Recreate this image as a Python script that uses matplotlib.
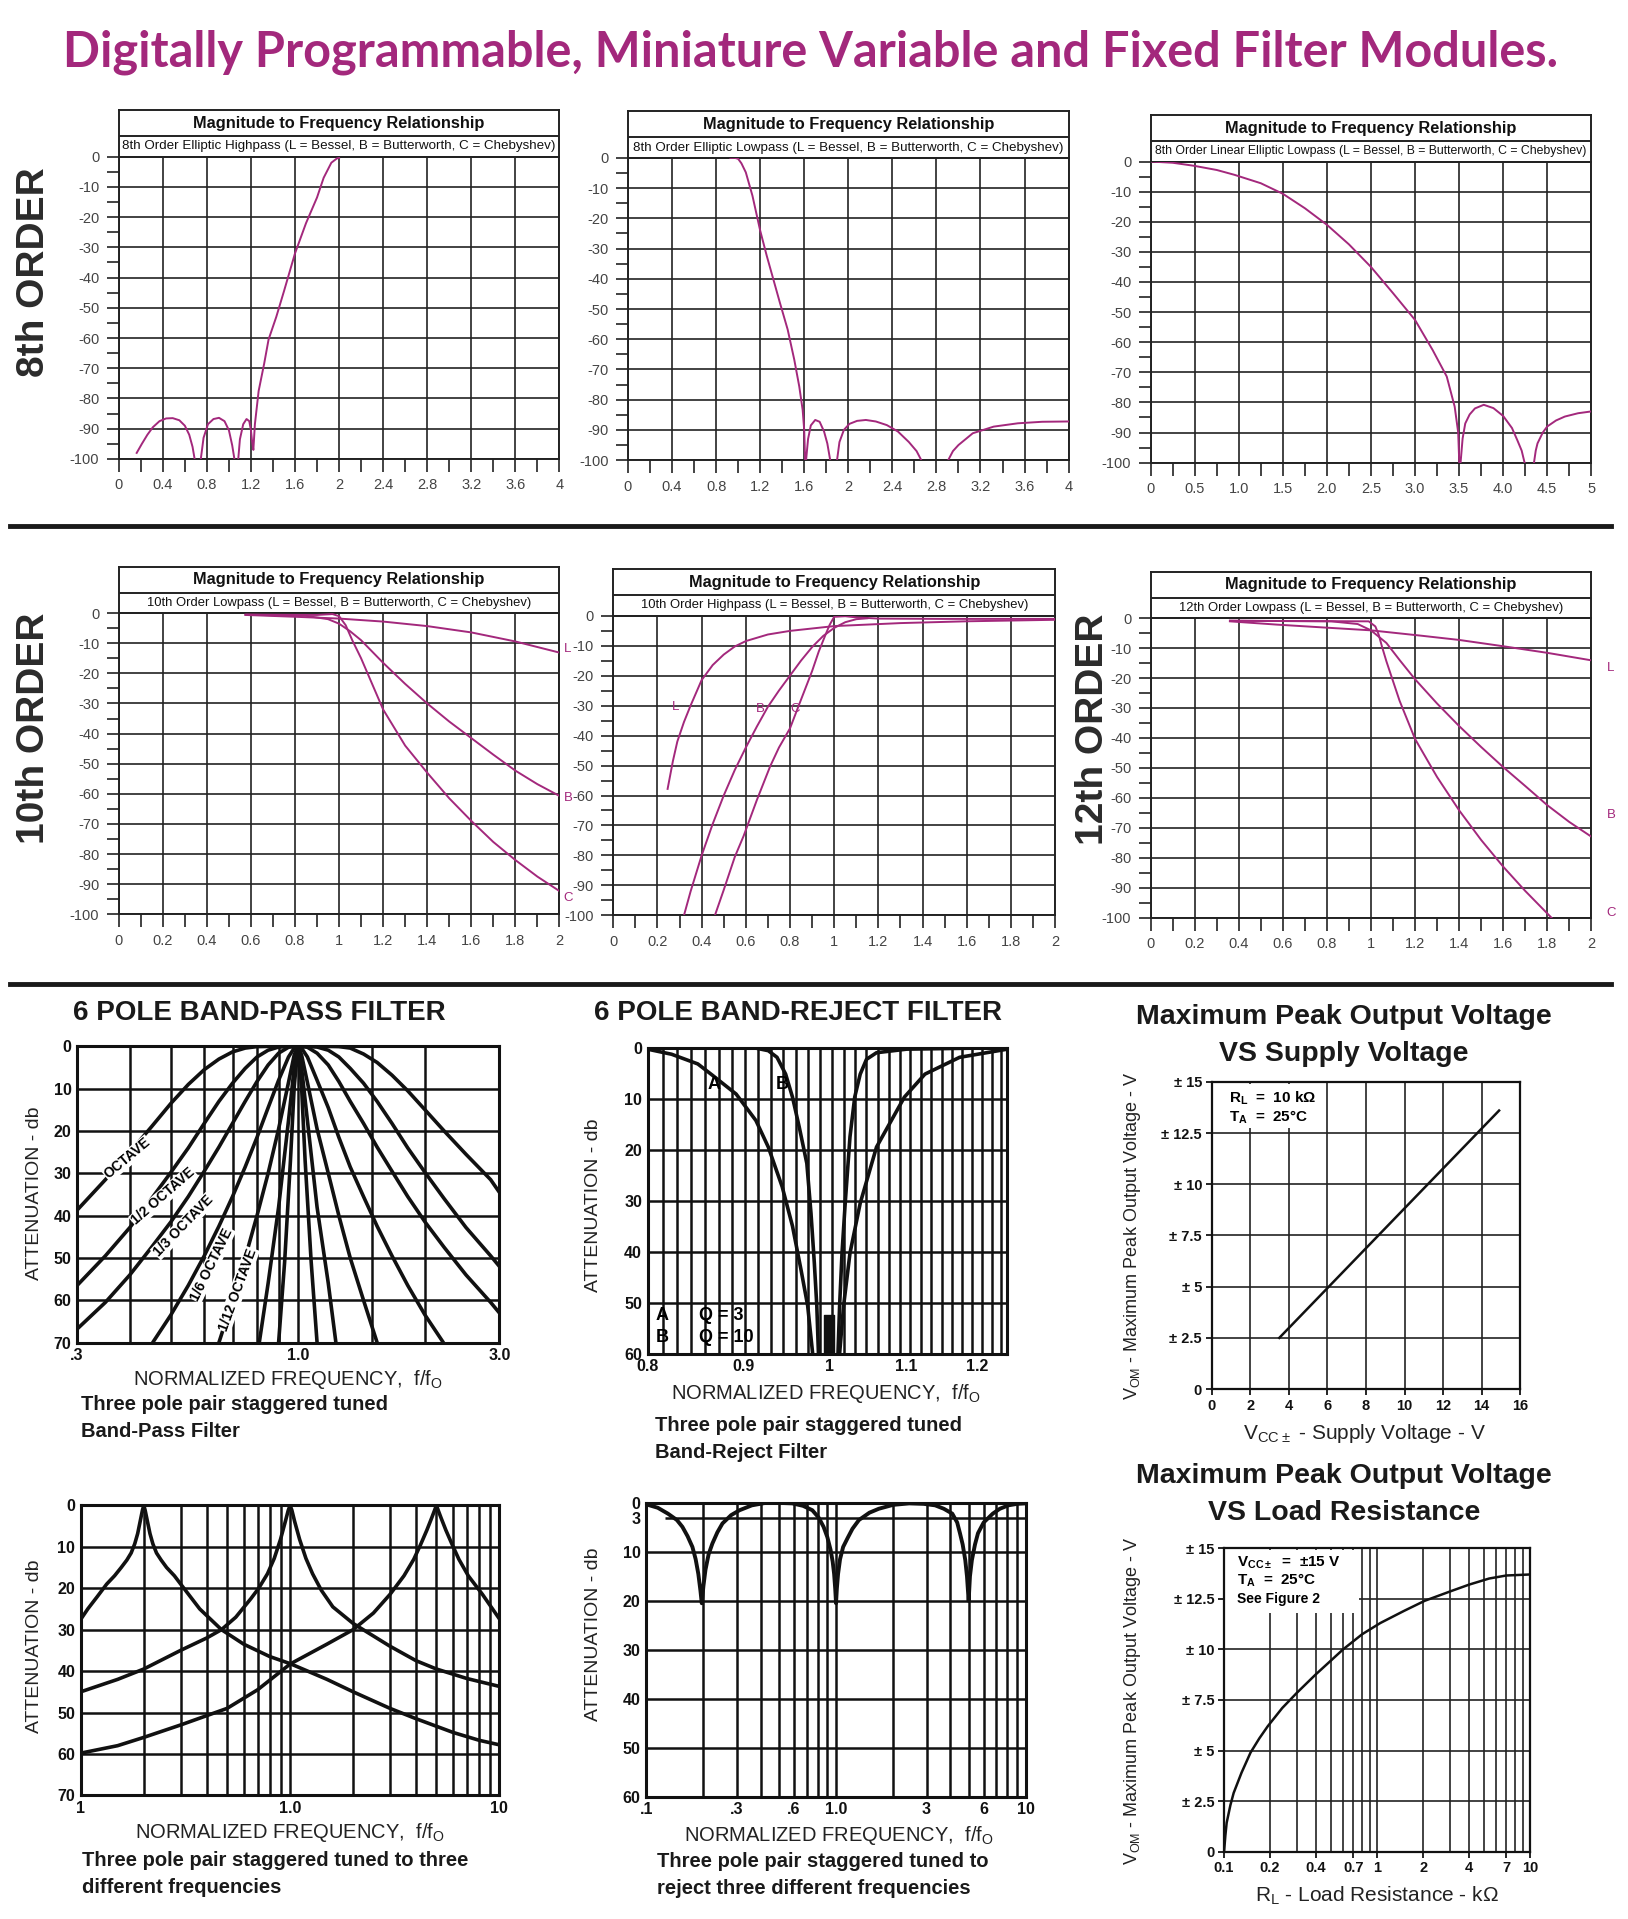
import numpy as np
import matplotlib
matplotlib.use("Agg")
import matplotlib.pyplot as plt
from matplotlib.lines import Line2D
from matplotlib.patches import Rectangle
from matplotlib.ticker import NullLocator, MultipleLocator

plt.rcParams['font.family'] = ['Liberation Sans', 'DejaVu Sans']
NARROW = ['Liberation Sans Narrow', 'Liberation Sans', 'DejaVu Sans']
MAG = '#a3287c'
GRID = '#222222'

# ---------------- data: 8th order ----------------
hp8_x = [0.163, 0.21, 0.26, 0.31, 0.37, 0.43, 0.49, 0.55, 0.6, 0.64, 0.67, 0.689, np.nan,
         0.745, 0.77, 0.81, 0.86, 0.91, 0.96, 1.0, 1.03, 1.05, np.nan,
         1.085, 1.1, 1.13, 1.16, 1.185, 1.2, 1.21, 1.222, 1.236, 1.27, 1.32, 1.36, 1.43,
         1.5, 1.6, 1.7, 1.8, 1.86, 1.93, 1.98, 2.0]
hp8_y = [-98, -95, -92, -89.5, -87.5, -86.6, -86.5, -87.2, -89, -92, -96, -100, np.nan,
         -100, -93, -88.5, -86.8, -86.4, -87.5, -90.5, -95.5, -100, np.nan,
         -100, -93.5, -88.5, -86.8, -87.5, -90.5, -94, -97, -88.5, -77.5, -68.5, -60.5, -53,
         -44.5, -32, -22, -13.5, -7, -2, -0.6, -0.4]

lp8_x = [0.93, 0.97, 1.0, 1.03, 1.07, 1.13, 1.2, 1.26, 1.32, 1.38, 1.45, 1.51, 1.555, 1.586, 1.6, 1.608, np.nan,
         1.617, 1.635, 1.66, 1.70, 1.74, 1.78, 1.81, 1.836, np.nan,
         1.898, 1.92, 1.96, 2.01, 2.08, 2.16, 2.25, 2.35, 2.45, 2.55, 2.62, 2.663, np.nan,
         2.907, 2.95, 3.0, 3.13, 3.32, 3.54, 3.76, 4.0]
lp8_y = [0, 0, -0.3, -1.8, -4.8, -12.5, -24, -32.4, -40.2, -48, -56.8, -66.8, -75.6, -83.4, -90, -100, np.nan,
         -100, -93, -88.5, -86.7, -87.3, -90.5, -94.5, -100, np.nan,
         -100, -94, -90, -88, -87, -86.7, -87.2, -88.4, -90.5, -94, -97, -100, np.nan,
         -100, -97, -95, -91.1, -88.9, -87.8, -87.3, -87.2]

lin8_x = [0, 0.25, 0.49, 0.75, 0.95, 1.25, 1.5, 1.75, 2.0, 2.25, 2.5, 2.75, 3.0, 3.2, 3.36, 3.45, 3.49, 3.502, np.nan,
          3.517, 3.54, 3.57, 3.62, 3.68, 3.78, 3.89, 4.0, 4.1, 4.16, 4.21, 4.243, np.nan,
          4.35, 4.37, 4.39, 4.45, 4.5, 4.6, 4.7, 4.85, 5.0]
lin8_y = [0, -0.4, -1.4, -2.8, -4.4, -7.2, -10.7, -15.5, -21, -27.5, -35, -43.7, -52.6, -62.6, -71.4, -81.4, -90, -100, np.nan,
          -100, -92, -87, -84, -82, -80.8, -81.9, -84.5, -88.5, -92.5, -96, -100, np.nan,
          -100, -96, -93.6, -90, -88, -86, -84.7, -83.6, -83]

# ---------------- data: 10th / 12th order ----------------
lp10_L_x = [0.575, 0.8, 1.0, 1.2, 1.4, 1.6, 1.8, 2.0]
lp10_L_y = [-0.6, -1.2, -1.8, -2.8, -4.3, -6.4, -9.4, -13.1]
lp10_B_x = [0.575, 0.85, 0.95, 1.0, 1.05, 1.1, 1.2, 1.3, 1.4, 1.5, 1.6, 1.7, 1.8, 1.9, 2.0]
lp10_B_y = [-0.5, -0.9, -2, -3.5, -6, -9, -16.5, -23.5, -30, -36, -41.5, -47, -52.3, -56.8, -60.7]
lp10_C_x = [0.58, 0.9, 0.97, 1.0, 1.03, 1.06, 1.1, 1.15, 1.2, 1.3, 1.4, 1.5, 1.6, 1.7, 1.8, 1.9, 2.0]
lp10_C_y = [-0.5, -0.6, -0.3, -1.0, -4, -9, -15, -23.5, -32, -44, -53, -61.5, -69, -76, -82, -87.5, -92.3]

hp10_L_x = [0.246, 0.27, 0.29, 0.32, 0.35, 0.4, 0.45, 0.5, 0.55, 0.6, 0.7, 0.8, 1.0, 1.3, 1.6, 2.0]
hp10_L_y = [-57.8, -48.5, -42, -35.5, -30, -21.5, -16.5, -13, -10.3, -8.5, -6.3, -5.1, -3.5, -2.5, -1.9, -1.4]
hp10_B_x = [0.32, 0.35, 0.4, 0.45, 0.5, 0.55, 0.6, 0.65, 0.7, 0.75, 0.8, 0.85, 0.9, 0.95, 1.0, 1.05, 1.1, 1.15]
hp10_B_y = [-100, -92, -80, -69.5, -60, -51.5, -44, -37, -30.4, -25, -20, -15, -10.5, -6.8, -4.1, -2.2, -1.2, -0.9]
hp10_C_x = [0.46, 0.5, 0.55, 0.59, 0.65, 0.71, 0.75, 0.8, 0.85, 0.9, 0.93, 0.96, 0.98, 1.0, 1.05, 1.1, 1.2, 1.5, 2.0]
hp10_C_y = [-100, -91.5, -80.5, -73.5, -61.5, -50.3, -44, -37.6, -28, -18.5, -12, -6.5, -3, -0.4, -0.2, -0.6, -1.0, -1.1, -1.1]

lp12_L_x = [0.36, 0.575, 0.82, 1.0, 1.23, 1.4, 1.6, 1.8, 2.0]
lp12_L_y = [-1.1, -2.2, -3.3, -4.1, -5.9, -7.3, -9.4, -11.6, -14.1]
lp12_B_x = [0.36, 0.82, 0.94, 1.0, 1.07, 1.13, 1.2, 1.3, 1.4, 1.5, 1.6, 1.7, 1.8, 1.9, 2.0]
lp12_B_y = [-0.9, -1.1, -2, -4.1, -8.3, -14, -20.4, -28.5, -36, -43, -49.7, -56, -62.4, -68, -72.9]
lp12_C_x = [0.36, 0.99, 1.02, 1.035, 1.05, 1.07, 1.1, 1.13, 1.2, 1.3, 1.4, 1.5, 1.6, 1.7, 1.82]
lp12_C_y = [-0.9, -1.1, -2.8, -5.5, -9.5, -14.4, -21, -27.6, -40.3, -53, -64.1, -74, -82.9, -91, -100]

# ---------------- data: 6 pole band-pass ----------------
bp_oct_f = [0.3, 0.35, 0.4, 0.45, 0.5, 0.55, 0.6, 0.65, 0.7, 0.75, 0.8, 0.85, 1.18, 1.25, 1.33, 1.43,
            1.54, 1.67, 1.82, 2.0, 2.22, 2.5, 2.86, 3.0]
bp_oct_db = [38.7, 31.5, 25, 19, 13.5, 9, 5.5, 3, 1.3, 0.4, 0.05, 0, 0, 0.05, 0.4, 1.8,
             3.8, 6.8, 10.5, 15, 20, 25.5, 31.5, 34.5]
bp_half_f = [0.3, 0.35, 0.4, 0.45, 0.5, 0.55, 0.6, 0.65, 0.7, 0.75, 0.8, 0.85, 0.9, 0.95,
             1.053, 1.11, 1.18, 1.25, 1.33, 1.43, 1.54, 1.67, 1.82, 2.0, 2.22, 2.5, 2.86, 3.0]
bp_half_db = [56.5, 49.5, 42.8, 36, 29.8, 24, 18.2, 13, 8.7, 5.2, 2.5, 0.9, 0.15, 0,
              0, 0.15, 0.9, 2.5, 5.2, 8.7, 13, 18.2, 24, 29.8, 36, 42.8, 49.5, 52]
bp_third_f = [0.3, 0.35, 0.4, 0.45, 0.5, 0.55, 0.6, 0.65, 0.7, 0.75, 0.8, 0.85, 0.9, 0.95, 0.98,
              1.02, 1.053, 1.11, 1.18, 1.25, 1.33, 1.43, 1.54, 1.67, 1.82, 2.0, 2.22, 2.5, 2.86, 3.0]
bp_third_db = [66.8, 60.5, 54, 47.5, 41.5, 35.5, 29.5, 23.8, 18.2, 13, 8.3, 4.4, 1.6, 0.2, 0,
               0, 0.2, 1.6, 4.4, 8.3, 13, 18.2, 23.8, 29.5, 35.5, 41.5, 47.5, 54, 60.5, 63]
bp_sixth_f = [0.453, 0.5, 0.55, 0.6, 0.65, 0.7, 0.75, 0.8, 0.85, 0.9, 0.95, 0.98, 1.0,
              1.02, 1.053, 1.11, 1.18, 1.25, 1.33, 1.43, 1.54, 1.67, 1.82, 2.0, 2.21]
bp_sixth_db = [70, 63.5, 56.5, 49.5, 42.5, 35.5, 28.5, 21.5, 14.5, 8, 2.5, 0.4, 0,
               0.4, 2.5, 8, 14.5, 21.5, 28.5, 35.5, 42.5, 49.5, 56.5, 63.5, 70]
bp_twelfth_f = [0.65, 0.7, 0.75, 0.8, 0.85, 0.9, 0.95, 0.98, 1.0, 1.02, 1.053, 1.11, 1.18, 1.25, 1.33, 1.43, 1.54]
bp_twelfth_db = [70, 60, 50, 40, 30, 19.5, 8.5, 2, 0, 2, 8.5, 19.5, 30, 40, 50, 60, 70]
bp_24_f = [0.81, 0.85, 0.9, 0.95, 0.98, 1.0, 1.02, 1.053, 1.11, 1.18, 1.23]
bp_24_db = [70, 56, 38, 17.5, 5, 0, 5, 17.5, 38, 56, 70]
bp_48_f = [0.9, 0.93, 0.96, 0.98, 1.0, 1.02, 1.04, 1.075, 1.11]
bp_48_db = [70, 51, 27, 9.5, 0, 9.5, 27, 51, 70]
bp_labels = ['OCTAVE', '1/2 OCTAVE', '1/3 OCTAVE', '1/6 OCTAVE', '1/12 OCTAVE']
bp_label_f = [0.395, 0.48, 0.535, 0.625, 0.72]
bp_label_db = [26.5, 35.5, 42.5, 51.5, 57.5]
bp_label_rot = [40, 41, 46, 64, 70]

# ---------------- data: 6 pole band-reject ----------------
br_a_f = [0.8, 0.824, 0.851, 0.867, 0.892, 0.914, 0.928, 0.944, 0.956, 0.966, 0.974, 0.98, np.nan,
          1.013, 1.018, 1.026, 1.039, 1.06, 1.097, 1.125, 1.174, 1.245]
br_a_db = [0.3, 1.3, 3.2, 5.5, 9.1, 14.3, 19.5, 27.3, 35, 43.5, 50.6, 60, np.nan,
           60, 50.6, 40.3, 30.5, 19.5, 9.7, 5.2, 1.9, 0.3]
br_b_f = [0.8, 0.914, 0.928, 0.938, 0.948, 0.956, 0.964, 0.973, 0.978, 0.982, 0.985, 0.987, np.nan,
          1.011, 1.013, 1.016, 1.02, 1.026, 1.032, 1.039, 1.047, 1.06, 1.1, 1.245]
br_b_db = [0, 0.1, 0.6, 1.9, 5.2, 9.7, 15.6, 22.7, 32.5, 42.2, 50.6, 60, np.nan,
           60, 50.6, 40.3, 30.5, 17.5, 9.7, 5.2, 2.3, 1, 0.3, 0]
br_notch = [0.994, 1.006, 52.5, 60]

# ---------------- data: output voltage ----------------
supply_v = [3.5, 14.9]
peak_v_supply = [2.5, 13.6]
load_r = [0.1, 0.102, 0.104, 0.11, 0.1155, 0.13, 0.149, 0.17, 0.193, 0.24, 0.299, 0.396, 0.5, 0.6,
          0.8, 1.05, 1.5, 2.05, 3.1, 4.0, 5.4, 7.0, 10]
peak_v_load = [0, 0.8, 1.43, 2.3, 2.9, 3.9, 4.9, 5.6, 6.2, 7.1, 7.85, 8.75, 9.45, 10.0,
               10.75, 11.3, 11.9, 12.4, 12.9, 13.2, 13.5, 13.65, 13.7]

# ---------------- data: three frequencies ----------------
tp1_f = [0.1, 0.108, 0.12, 0.133, 0.145, 0.156, 0.166, 0.174, 0.181, 0.187, 0.1923, 0.197, 0.2,
         0.203, 0.208, 0.214, 0.221, 0.23, 0.242, 0.257, 0.28, 0.3, 0.37, 0.47, 0.6, 0.8, 1.0,
         1.5, 2.0, 3.0, 4.0, 6.0, 8.0, 10]
tp1_db = [27.5, 25, 22, 19, 17, 15, 13.2, 11.5, 9.3, 6.8, 3.8, 1.2, 0,
          1.2, 3.8, 6.8, 9.3, 11.5, 13.2, 15, 17, 19, 25, 30, 33.5, 36.5, 38.2,
          42, 45, 49, 51.5, 54.8, 56.7, 57.8]
tp2_f = [0.1, 0.15, 0.2, 0.3, 0.4, 0.47, 0.55, 0.65, 0.708, 0.78, 0.84, 0.9, 0.95, 0.98, 1.0,
         1.02, 1.05, 1.11, 1.19, 1.28, 1.41, 1.6, 2.0, 2.2, 3.0, 4.0, 5.0, 7.0, 10]
tp2_db = [45, 42, 39.5, 35, 32, 30, 27, 22.5, 20, 16.5, 12.8, 8.2, 3.8, 1.2, 0,
          1.2, 3.8, 8.2, 12.8, 16.5, 20.5, 24.5, 28.5, 29.8, 34, 37.5, 39.5, 41.8, 43.7]
tp3_f = [0.1, 0.15, 0.2, 0.3, 0.5, 0.7, 1.0, 1.5, 2.0, 2.5, 3.0, 3.5, 3.9, 4.2, 4.5, 4.75, 4.9, 5.0,
         5.1, 5.26, 5.55, 5.95, 6.4, 7.1, 8.3, 10]
tp3_db = [59.8, 58, 56, 53, 49, 44.5, 38.3, 33.5, 30, 26, 21.5, 17, 13, 9.5, 6, 3, 1.2, 0,
          1.2, 3, 6, 9.5, 13, 17, 21.5, 27.4]

tr_f = [0.1, 0.115, 0.13, 0.145, 0.155, 0.165, 0.175, 0.182, 0.188, 0.193, 0.196, 0.2, 0.205, 0.213,
        0.223, 0.237, 0.252, 0.28, 0.31, 0.36, 0.425, 0.5, 0.588, 0.67, 0.75, 0.81, 0.86, 0.9,
        0.936, 0.96, 0.977, 0.99, 1.0, 1.01, 1.025, 1.05, 1.09, 1.15, 1.22, 1.32, 1.5, 1.68,
        2.0, 2.43, 2.9, 3.33, 3.7, 4.1, 4.35, 4.5, 4.65, 4.8, 4.9, 5.0, 5.08, 5.2, 5.4, 5.6,
        6.0, 6.7, 7.3, 8.1, 9.0, 10]
tr_db = [0.3, 1.0, 2.2, 3.5, 4.9, 6.8, 9, 11.5, 14.5, 18, 20.5, 17, 13.7, 10.5,
         8.3, 6, 4.2, 2.5, 1.5, 0.5, 0.0, 0, 0.1, 0.6, 1.5, 3, 4.9, 7,
         9.6, 12, 14.5, 17.5, 20.5, 17.5, 14.5, 11.5, 9, 7.2, 5.3, 3.5, 2.0, 1.2,
         0.4, 0.1, 0.2, 0.5, 1.2, 2.2, 4, 6.2, 8.5, 11.7, 15, 20, 15, 11.7, 8.5, 6.2,
         4, 2.2, 1.2, 0.5, 0.2, 0.1]

# ---------------- tick labels ----------------
x4_vals = [0, 0.4, 0.8, 1.2, 1.6, 2.0, 2.4, 2.8, 3.2, 3.6, 4.0]
x4_labels = ['0', '0.4', '0.8', '1.2', '1.6', '2', '2.4', '2.8', '3.2', '3.6', '4']
x5_vals = [0, 0.5, 1.0, 1.5, 2.0, 2.5, 3.0, 3.5, 4.0, 4.5, 5.0]
x5_labels = ['0', '0.5', '1.0', '1.5', '2.0', '2.5', '3.0', '3.5', '4.0', '4.5', '5']
x2_vals = [0, 0.2, 0.4, 0.6, 0.8, 1.0, 1.2, 1.4, 1.6, 1.8, 2.0]
x2_labels = ['0', '0.2', '0.4', '0.6', '0.8', '1', '1.2', '1.4', '1.6', '1.8', '2']
db_vals = list(range(-100, 1, 10))
db_labels = [str(v) for v in db_vals]
volt_vals = [0, 2.5, 5, 7.5, 10, 12.5, 15]
volt_labels = ['0', '± 2.5', '± 5', '± 7.5', '± 10', '± 12.5', '± 15']

# ---------------- figure ----------------
DW, DH = 1330.0, 1568.0
fig = plt.figure(figsize=(16.28, 19.19), dpi=100)
fig.patch.set_facecolor('white')


def frect(x0, x1, yt, yb):
    return [x0 / DW, 1 - yb / DH, (x1 - x0) / DW, (yb - yt) / DH]


def ftext(x, y, s, **kw):
    fig.text(x / DW, 1 - y / DH, s, **kw)


def header(x0, x1, ytop, ybot, title, sub, subsize):
    hx = fig.add_axes(frect(x0, x1, ytop, ybot))
    hx.set_xlim(0, 1)
    hx.set_ylim(0, 1)
    hx.set_xticks([])
    hx.set_yticks([])
    for s in hx.spines.values():
        s.set_linewidth(1.4)
        s.set_color(GRID)
    hx.axhline(0.44, color=GRID, lw=1.4)
    hx.text(0.5, 0.72, title, ha='center', va='center', fontsize=11.8, fontweight='bold', color='#111')
    hx.text(0.5, 0.22, sub, ha='center', va='center', fontsize=subsize, family=NARROW, color='#111')


def mag_plot(x0, x1, yt, yb, xmax, xv, xl, minor, curves, title, sub, labels=(), subsize=9.6):
    header(x0, x1, yt - 38, yt, title, sub, subsize)
    ax = fig.add_axes(frect(x0, x1, yt, yb))
    ax.set_xlim(0, xmax)
    ax.set_ylim(-100, 0)
    ax.set_xticks(xv, xl)
    ax.set_yticks(db_vals, db_labels)
    ax.xaxis.set_minor_locator(MultipleLocator(minor))
    ax.yaxis.set_minor_locator(MultipleLocator(5))
    ax.grid(True, which='major', color=GRID, lw=1.2)
    ax.tick_params(which='both', direction='out', length=9, width=1.2, color=GRID,
                   labelsize=10.5, labelcolor='#444', pad=5)
    for lbl in ax.get_xticklabels() + ax.get_yticklabels():
        lbl.set_family(NARROW)
    for s in ax.spines.values():
        s.set_linewidth(1.4)
        s.set_color(GRID)
    for cx, cy in curves:
        ax.plot(cx, cy, color=MAG, lw=1.4, zorder=3)
    for tx, ty, t in labels:
        ax.text(tx, ty, t, color=MAG, fontsize=9.5, ha='left', va='center', clip_on=False)
    return ax


fill_title = 'Digitally Programmable, Miniature Variable and Fixed Filter Modules.'
ftext(662, 43, fill_title, ha='center', va='center', fontsize=35, color=MAG,
      family=['Lato', 'DejaVu Sans'], fontweight='bold')

# section labels
for sx, sy, s in [(28, 222, '8th ORDER'), (28, 595, '10th ORDER'), (893, 596, '12th ORDER')]:
    ftext(sx, sy, s, rotation=90, ha='center', va='center', fontsize=28, fontweight='bold', color='#2b2b2b')

# separators
for yy in [430, 804]:
    fig.add_artist(Line2D([8 / DW, 1316 / DW], [1 - yy / DH] * 2, lw=3.5, color='#1a1a1a'))

MT = 'Magnitude to Frequency Relationship'
mag_plot(97, 457, 128, 375, 4, x4_vals, x4_labels, 0.2, [(hp8_x, hp8_y)], MT,
         '8th Order Elliptic Highpass (L = Bessel, B = Butterworth, C = Chebyshev)')
mag_plot(513, 873, 129, 376, 4, x4_vals, x4_labels, 0.2, [(lp8_x, lp8_y)], MT,
         '8th Order Elliptic Lowpass (L = Bessel, B = Butterworth, C = Chebyshev)')
mag_plot(940, 1300, 132, 378, 5, x5_vals, x5_labels, 0.25, [(lin8_x, lin8_y)], MT,
         '8th Order Linear Elliptic Lowpass (L = Bessel, B = Butterworth, C = Chebyshev)', subsize=8.8)

mag_plot(97, 457, 501, 747, 2, x2_vals, x2_labels, 0.1,
         [(lp10_L_x, lp10_L_y), (lp10_B_x, lp10_B_y), (lp10_C_x, lp10_C_y)], MT,
         '10th Order Lowpass (L = Bessel, B = Butterworth, C = Chebyshev)',
         labels=[(2.02, -12, 'L'), (2.02, -61.5, 'B'), (2.02, -94.5, 'C')], subsize=9.4)
mag_plot(501, 862, 503, 748, 2, x2_vals, x2_labels, 0.1,
         [(hp10_L_x, hp10_L_y), (hp10_B_x, hp10_B_y), (hp10_C_x, hp10_C_y)], MT,
         '10th Order Highpass (L = Bessel, B = Butterworth, C = Chebyshev)',
         labels=[(0.265, -30.5, 'L'), (0.645, -31, 'B'), (0.8, -31, 'C')], subsize=9.4)
mag_plot(940, 1300, 505, 750, 2, x2_vals, x2_labels, 0.1,
         [(lp12_L_x, lp12_L_y), (lp12_B_x, lp12_B_y), (lp12_C_x, lp12_C_y)], MT,
         '12th Order Lowpass (L = Bessel, B = Butterworth, C = Chebyshev)',
         labels=[(2.07, -16.6, 'L'), (2.07, -65.7, 'B'), (2.07, -98.3, 'C')], subsize=9.4)


def att_plot(x0, x1, yt, yb, xlim, ylim, xv, xl, yv, yl, vgrid, hgrid, log=True):
    ax = fig.add_axes(frect(x0, x1, yt, yb))
    if log:
        ax.set_xscale('log')
    ax.set_xlim(*xlim)
    ax.set_ylim(*ylim)
    ax.set_xticks(xv, xl, fontweight='bold')
    ax.set_yticks(yv, yl, fontweight='bold')
    ax.xaxis.set_minor_locator(NullLocator())
    ax.yaxis.set_minor_locator(NullLocator())
    ax.tick_params(length=0, labelsize=11.5, pad=4, labelcolor='#111')
    for v in vgrid:
        ax.axvline(v, color='#111', lw=1.8, zorder=1)
    for h in hgrid:
        ax.axhline(h, color='#111', lw=1.8, zorder=1)
    for s in ax.spines.values():
        s.set_linewidth(2.2)
        s.set_color('#111')
    return ax


logmin = [0.2, 0.3, 0.4, 0.5, 0.6, 0.7, 0.8, 0.9, 1, 2, 3, 4, 5, 6, 7, 8, 9]

# band-pass
ftext(60, 828, '6 POLE BAND-PASS FILTER', ha='left', va='center', fontsize=20, fontweight='bold', color='#1a1a1a')
ax = att_plot(63, 408, 855, 1097, (0.3, 3.0), (70, 0), [0.3, 1.0, 3.0], ['.3', '1.0', '3.0'],
              list(range(0, 71, 10)), [str(v) for v in range(0, 71, 10)],
              [0.4, 0.5, 0.6, 0.7, 0.8, 0.9, 1.0, 1.5, 2.0], list(range(10, 70, 10)))
for cf, cd in [(bp_oct_f, bp_oct_db), (bp_half_f, bp_half_db), (bp_third_f, bp_third_db),
               (bp_sixth_f, bp_sixth_db), (bp_twelfth_f, bp_twelfth_db), (bp_24_f, bp_24_db),
               (bp_48_f, bp_48_db)]:
    ax.plot(cf, cd, color='#111', lw=2.6, zorder=3, solid_capstyle='round')
for t, lf, ld, r in zip(bp_labels, bp_label_f, bp_label_db, bp_label_rot):
    ax.text(lf, ld, t, rotation=r, ha='center', va='center', fontsize=10, fontweight='bold', zorder=4,
            bbox=dict(boxstyle='square,pad=0.05', fc='white', ec='none'))
ftext(28, 975, 'ATTENUATION - db', rotation=90, ha='center', va='center', fontsize=14, color='#222')
ftext(235, 1127, r'NORMALIZED FREQUENCY,  f/f$_{\mathregular{O}}$', ha='center', va='center', fontsize=14.5, color='#222')
ftext(66, 1148, 'Three pole pair staggered tuned', ha='left', va='center', fontsize=14.5, fontweight='bold', color='#1a1a1a')
ftext(66, 1170, 'Band-Pass Filter', ha='left', va='center', fontsize=14.5, fontweight='bold', color='#1a1a1a')

# band-reject
ftext(485, 828, '6 POLE BAND-REJECT FILTER', ha='left', va='center', fontsize=20, fontweight='bold', color='#1a1a1a')
ax = att_plot(529, 823, 856, 1106, (0.8, 1.245), (60, 0), [0.8, 0.9, 1.0, 1.1, 1.2],
              ['0.8', '0.9', '1', '1.1', '1.2'], list(range(0, 61, 10)), [str(v) for v in range(0, 61, 10)],
              list(np.arange(0.815, 1.245, 0.0145)), list(range(10, 60, 10)))
ax.plot(br_a_f, br_a_db, color='#111', lw=2.6, zorder=3)
ax.plot(br_b_f, br_b_db, color='#111', lw=2.6, zorder=3)
ax.fill_between([br_notch[0], br_notch[1]], br_notch[2], br_notch[3], color='#111', zorder=3)
ax.text(0.868, 7.2, 'A', fontsize=13, fontweight='bold', ha='center', va='center', zorder=4)
ax.text(0.944, 7.2, 'B', fontsize=13, fontweight='bold', ha='center', va='center', zorder=4)
ax.text(0.808, 52.5, 'A', fontsize=13, fontweight='bold', ha='left', va='center', zorder=4)
ax.text(0.808, 56.8, 'B', fontsize=13, fontweight='bold', ha='left', va='center', zorder=4)
ax.text(0.852, 52.5, 'Q = 3', fontsize=13, fontweight='bold', ha='left', va='center', zorder=4)
ax.text(0.852, 56.8, 'Q = 10', fontsize=13, fontweight='bold', ha='left', va='center', zorder=4)
ftext(485, 985, 'ATTENUATION - db', rotation=90, ha='center', va='center', fontsize=14, color='#222')
ftext(675, 1139, r'NORMALIZED FREQUENCY,  f/f$_{\mathregular{O}}$', ha='center', va='center', fontsize=14.5, color='#222')
ftext(535, 1165, 'Three pole pair staggered tuned', ha='left', va='center', fontsize=14.5, fontweight='bold', color='#1a1a1a')
ftext(535, 1187, 'Band-Reject Filter', ha='left', va='center', fontsize=14.5, fontweight='bold', color='#1a1a1a')


def volt_plot(x0, x1, yt, yb):
    ax = fig.add_axes(frect(x0, x1, yt, yb))
    ax.set_ylim(0, 15)
    ax.set_yticks(volt_vals, volt_labels, fontweight='bold')
    ax.tick_params(length=4, width=1.2, labelsize=10.5, pad=3, labelcolor='#111')
    for s in ax.spines.values():
        s.set_linewidth(1.6)
        s.set_color('#111')
    return ax


# output vs supply
ftext(1098, 831, 'Maximum Peak Output Voltage', ha='center', va='center', fontsize=20.5, fontweight='bold', color='#1a1a1a')
ftext(1098, 861, 'VS Supply Voltage', ha='center', va='center', fontsize=20.5, fontweight='bold', color='#1a1a1a')
ax = volt_plot(990, 1242, 884, 1135)
ax.set_xlim(0, 16)
ax.set_xticks(list(range(0, 17, 2)), [str(v) for v in range(0, 17, 2)], fontweight='bold')
for v in range(2, 16, 2):
    ax.axvline(v, color='#222', lw=1.2, zorder=1)
for h in [2.5, 5, 7.5, 10, 12.5]:
    ax.axhline(h, color='#222', lw=1.2, zorder=1)
ax.add_patch(Rectangle((0.1, 12.75), 5.0, 2.15, fc='white', ec='none', zorder=2))
ax.plot(supply_v, peak_v_supply, color='#111', lw=1.8, zorder=3)
ax.text(0.9, 14.2, r'R$_{\mathregular{L}}$  =  10 kΩ', fontsize=11, fontweight='bold', va='center', zorder=4)
ax.text(0.9, 13.3, r'T$_{\mathregular{A}}$  =  25°C', fontsize=11, fontweight='bold', va='center', zorder=4)
ftext(925, 1010, r'V$_{\mathregular{OM}}$ - Maximum Peak Output Voltage - V', rotation=90, ha='center', va='center',
      fontsize=13, color='#222')
ftext(1115, 1171, r'V$_{\mathregular{CC\pm}}$ - Supply Voltage - V', ha='center', va='center', fontsize=15, color='#222')

# output vs load
ftext(1098, 1206, 'Maximum Peak Output Voltage', ha='center', va='center', fontsize=20.5, fontweight='bold', color='#1a1a1a')
ftext(1098, 1236, 'VS Load Resistance', ha='center', va='center', fontsize=20.5, fontweight='bold', color='#1a1a1a')
ax = volt_plot(1000, 1250, 1265, 1513)
ax.set_xscale('log')
ax.set_xlim(0.1, 10)
ax.set_xticks([0.1, 0.2, 0.4, 0.7, 1, 2, 4, 7, 10], ['0.1', '0.2', '0.4', '0.7', '1', '2', '4', '7', '10'],
              fontweight='bold')
ax.xaxis.set_minor_locator(NullLocator())
for v in logmin:
    ax.axvline(v, color='#222', lw=1.2, zorder=1)
for h in [2.5, 5, 7.5, 10, 12.5]:
    ax.axhline(h, color='#222', lw=1.2, zorder=1)
ax.add_patch(Rectangle((0.102, 11.8), 0.66, 3.1, fc='white', ec='none', zorder=2))
ax.plot(load_r, peak_v_load, color='#111', lw=1.8, zorder=3)
ax.text(0.122, 14.3, r'V$_{\mathregular{CC\pm}}$  =  ±15 V', fontsize=11, fontweight='bold', va='center', zorder=4)
ax.text(0.122, 13.4, r'T$_{\mathregular{A}}$  =  25°C', fontsize=11, fontweight='bold', va='center', zorder=4)
ax.text(0.122, 12.5, 'See Figure 2', fontsize=10, fontweight='bold', va='center', zorder=4)
ftext(925, 1390, r'V$_{\mathregular{OM}}$ - Maximum Peak Output Voltage - V', rotation=90, ha='center', va='center',
      fontsize=13, color='#222')
ftext(1125, 1549, r'R$_{\mathregular{L}}$ - Load Resistance - kΩ', ha='center', va='center', fontsize=15, color='#222')

# three frequencies band-pass
ax = att_plot(66, 408, 1230, 1467, (0.1, 10), (70, 0), [0.1, 1.0, 10], ['1', '1.0', '10'],
              list(range(0, 71, 10)), [str(v) for v in range(0, 71, 10)], logmin, list(range(10, 70, 10)))
for cf, cd in [(tp1_f, tp1_db), (tp2_f, tp2_db), (tp3_f, tp3_db)]:
    ax.plot(cf, cd, color='#111', lw=2.6, zorder=3)
ftext(28, 1345, 'ATTENUATION - db', rotation=90, ha='center', va='center', fontsize=14, color='#222')
ftext(237, 1497, r'NORMALIZED FREQUENCY,  f/f$_{\mathregular{O}}$', ha='center', va='center', fontsize=14.5, color='#222')
ftext(67, 1520, 'Three pole pair staggered tuned to three', ha='left', va='center', fontsize=14.5, fontweight='bold', color='#1a1a1a')
ftext(67, 1542, 'different frequencies', ha='left', va='center', fontsize=14.5, fontweight='bold', color='#1a1a1a')

# three frequencies band-reject
ax = att_plot(528, 838, 1228, 1468, (0.1, 10), (60, 0), [0.1, 0.3, 0.6, 1.0, 3, 6, 10],
              ['.1', '.3', '.6', '1.0', '3', '6', '10'], [0, 3, 10, 20, 30, 40, 50, 60],
              ['0', '3', '10', '20', '30', '40', '50', '60'], logmin, [10, 20, 30, 40, 50])
ax.hlines(3, 0.125, 10, color='#111', lw=1.8, zorder=1)
ax.plot(tr_f, tr_db, color='#111', lw=2.8, zorder=3)
ftext(485, 1335, 'ATTENUATION - db', rotation=90, ha='center', va='center', fontsize=14, color='#222')
ftext(685, 1500, r'NORMALIZED FREQUENCY,  f/f$_{\mathregular{O}}$', ha='center', va='center', fontsize=14.5, color='#222')
ftext(537, 1521, 'Three pole pair staggered tuned to', ha='left', va='center', fontsize=14.5, fontweight='bold', color='#1a1a1a')
ftext(537, 1543, 'reject three different frequencies', ha='left', va='center', fontsize=14.5, fontweight='bold', color='#1a1a1a')

fig.savefig('out.png', dpi=100, facecolor='white')
